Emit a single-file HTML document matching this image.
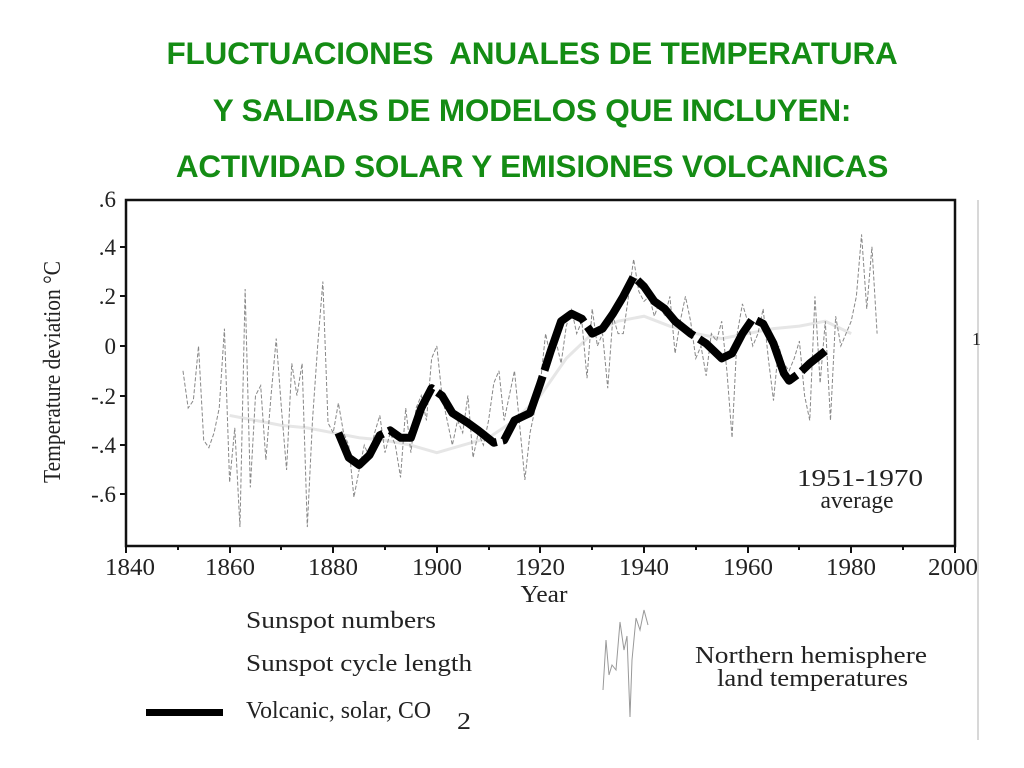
<!DOCTYPE html>
<html><head><meta charset="utf-8"><style>
html,body{margin:0;padding:0;background:#fff;width:1024px;height:768px;overflow:hidden}
.t{position:absolute;left:0;width:1064px;text-align:center;font-family:"Liberation Sans",sans-serif;font-weight:bold;font-size:31.5px;color:#148c14;letter-spacing:-0.2px}
svg{position:absolute;left:0;top:0}
</style></head><body>
<div class="t" style="top:35px">FLUCTUACIONES&nbsp; ANUALES DE TEMPERATURA</div>
<div class="t" style="top:92px">Y SALIDAS DE MODELOS QUE INCLUYEN:</div>
<div class="t" style="top:148px">ACTIVIDAD SOLAR Y EMISIONES VOLCANICAS</div>
<svg width="1024" height="768" viewBox="0 0 1024 768" font-family="Liberation Serif, serif" fill="#222">
<line x1="978" y1="200" x2="978" y2="740" stroke="#ccc" stroke-width="1.5"/>
<rect x="126" y="200" width="829" height="346" fill="none" stroke="#111" stroke-width="2.5"/>
<g stroke="#111" stroke-width="2">
<line x1="126" y1="546" x2="126" y2="553"/><line x1="230" y1="546" x2="230" y2="553"/><line x1="333" y1="546" x2="333" y2="553"/><line x1="437" y1="546" x2="437" y2="553"/><line x1="540" y1="546" x2="540" y2="553"/><line x1="644" y1="546" x2="644" y2="553"/><line x1="748" y1="546" x2="748" y2="553"/><line x1="851" y1="546" x2="851" y2="553"/><line x1="955" y1="546" x2="955" y2="553"/>
<line x1="178" y1="546" x2="178" y2="550"/><line x1="281" y1="546" x2="281" y2="550"/><line x1="385" y1="546" x2="385" y2="550"/><line x1="489" y1="546" x2="489" y2="550"/><line x1="592" y1="546" x2="592" y2="550"/><line x1="696" y1="546" x2="696" y2="550"/><line x1="799" y1="546" x2="799" y2="550"/><line x1="903" y1="546" x2="903" y2="550"/>
<line x1="120" y1="247" x2="126" y2="247"/><line x1="120" y1="296" x2="126" y2="296"/><line x1="120" y1="346" x2="126" y2="346"/><line x1="120" y1="396" x2="126" y2="396"/><line x1="120" y1="445" x2="126" y2="445"/><line x1="120" y1="494" x2="126" y2="494"/>
</g>
<g font-size="23" text-anchor="end">
<text x="116" y="207">.6</text><text x="116" y="255">.4</text><text x="116" y="304">.2</text><text x="116" y="354">0</text><text x="116" y="404">-.2</text><text x="116" y="453">-.4</text><text x="116" y="502">-.6</text>
</g>
<g font-size="24" text-anchor="middle" lengthAdjust="spacingAndGlyphs">
<text x="130" y="575" textLength="50" lengthAdjust="spacingAndGlyphs">1840</text><text x="230" y="575" textLength="50" lengthAdjust="spacingAndGlyphs">1860</text><text x="333" y="575" textLength="50" lengthAdjust="spacingAndGlyphs">1880</text><text x="437" y="575" textLength="50" lengthAdjust="spacingAndGlyphs">1900</text><text x="540" y="575" textLength="50" lengthAdjust="spacingAndGlyphs">1920</text><text x="644" y="575" textLength="50" lengthAdjust="spacingAndGlyphs">1940</text><text x="748" y="575" textLength="50" lengthAdjust="spacingAndGlyphs">1960</text><text x="851" y="575" textLength="50" lengthAdjust="spacingAndGlyphs">1980</text><text x="953" y="575" textLength="50" lengthAdjust="spacingAndGlyphs">2000</text>
<text x="544" y="602" textLength="47" lengthAdjust="spacingAndGlyphs">Year</text>
<text x="860" y="486" textLength="126" lengthAdjust="spacingAndGlyphs">1951-1970</text><text x="857" y="508" textLength="73" lengthAdjust="spacingAndGlyphs">average</text>
</g>
<text x="972" y="345" font-size="18">1</text>
<text transform="translate(60,372) rotate(-90)" font-size="24" text-anchor="middle" textLength="222" lengthAdjust="spacingAndGlyphs">Temperature deviation °C</text>
<g transform="translate(126,346) scale(5.18,-248)" fill="none">
<polyline vector-effect="non-scaling-stroke" stroke="#e6e6e6" stroke-width="3" points="20,-0.28 25,-0.3 30,-0.32 35,-0.33 40,-0.35 45,-0.37 50,-0.38 55,-0.4 60,-0.43 65,-0.4 70,-0.37 75,-0.3 80,-0.2 85,-0.05 90,0.05 95,0.1 100,0.12 105,0.08 110,0.05 115,0.03 120,0.05 125,0.07 130,0.08 135,0.1 140,0.05"/>
<polyline vector-effect="non-scaling-stroke" stroke="#888" stroke-width="1" stroke-dasharray="4 2" points="11,-0.1 12,-0.25 13,-0.22 14,0 15,-0.38 16,-0.41 17,-0.35 18,-0.25 19,0.07 20,-0.55 21,-0.33 22,-0.73 23,0.23 24,-0.57 25,-0.2 26,-0.16 27,-0.46 28,-0.2 29,0.03 30,-0.25 31,-0.5 32,-0.07 33,-0.2 34,-0.07 35,-0.73 36,-0.3 37,0 38,0.26 39,-0.31 40,-0.35 41,-0.23 42,-0.35 43,-0.4 44,-0.61 45,-0.5 46,-0.4 47,-0.45 48,-0.35 49,-0.28 50,-0.43 51,-0.35 52,-0.4 53,-0.53 54,-0.25 55,-0.43 56,-0.25 57,-0.2 58,-0.3 59,-0.05 60,0 61,-0.2 62,-0.3 63,-0.4 64,-0.3 65,-0.35 66,-0.2 67,-0.45 68,-0.35 69,-0.4 70,-0.3 71,-0.15 72,-0.1 73,-0.3 74,-0.2 75,-0.1 76,-0.32 77,-0.54 78,-0.35 79,-0.25 80,-0.15 81,0.05 82,-0.05 83,0.02 84,-0.07 85,0.08 86,0.15 87,0.05 88,0.1 89,-0.13 90,0.15 91,0 92,0.05 93,-0.17 94,0.12 95,0.05 96,0.05 97,0.2 98,0.35 99,0.22 100,0.18 101,0.2 102,0.12 103,0.18 104,0.12 105,0.2 106,-0.03 107,0.1 108,0.2 109,0.1 110,-0.05 111,0 112,-0.12 113,0.05 114,0.02 115,0.1 116,-0.1 117,-0.37 118,0.05 119,0.17 120,0.1 121,0 122,0.05 123,0.15 124,-0.05 125,-0.22 126,0 127,-0.07 128,-0.1 129,-0.05 130,0.02 131,-0.2 132,-0.3 133,0.2 134,-0.15 135,0.1 136,-0.3 137,0.12 138,0 139,0.05 140,0.1 141,0.2 142,0.45 143,0.15 144,0.4 145,0.05"/>
<polyline vector-effect="non-scaling-stroke" stroke="#000" stroke-width="8" stroke-dasharray="80 6" stroke-linejoin="round" points="41,-0.35 43,-0.45 45,-0.48 47,-0.44 49,-0.36 51,-0.34 53,-0.37 55,-0.37 57,-0.25 59,-0.17 61,-0.2 63,-0.27 66,-0.31 68,-0.34 71,-0.39 73,-0.38 75,-0.3 77,-0.28 78,-0.27 80,-0.15 82,-0.02 84,0.1 86,0.13 88,0.11 90,0.05 92,0.07 94,0.13 96,0.2 98,0.28 100,0.24 102,0.18 104,0.15 106,0.1 109,0.05 112,0.01 115,-0.05 117,-0.03 119,0.05 121,0.11 123,0.09 125,0.01 127,-0.11 128,-0.14 130,-0.11 132,-0.07 135,-0.02"/>
</g>
<g font-size="24">
<text x="246" y="628" textLength="190" lengthAdjust="spacingAndGlyphs">Sunspot numbers</text>
<text x="246" y="671" textLength="226" lengthAdjust="spacingAndGlyphs">Sunspot cycle length</text>
<text x="246" y="718" textLength="185" lengthAdjust="spacingAndGlyphs">Volcanic, solar, CO</text><text x="457" y="729" textLength="14" lengthAdjust="spacingAndGlyphs">2</text>
<text x="695" y="663" textLength="232" lengthAdjust="spacingAndGlyphs">Northern hemisphere</text>
<text x="717" y="686" textLength="191" lengthAdjust="spacingAndGlyphs">land temperatures</text>
</g>
<rect x="146" y="709" width="77" height="7" fill="#000"/>
<polyline fill="none" stroke="#999" stroke-width="1" points="603,690 606,640 609,675 612,665 616,670 620,622 624,650 627,636 630,717 632,660 636,618 640,630 644,610 648,625"/>
</svg>
</body></html>
